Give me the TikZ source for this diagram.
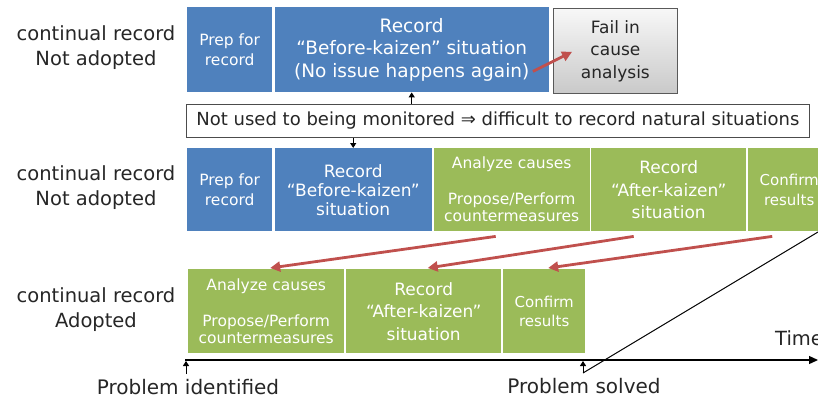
\documentclass[tikz,border=0pt]{standalone}
\usepackage{fontspec}
\setmainfont{DejaVu Sans}
\usetikzlibrary{arrows.meta,calc}
\definecolor{kblue}{HTML}{4F81BD}
\definecolor{kgreen}{HTML}{9BBB59}
\definecolor{kred}{HTML}{C0504D}
\begin{document}
\begin{tikzpicture}[x=1pt,y=-1pt,
  boxbase/.style={anchor=north west, inner sep=0pt, align=center, text=white},
  bluebox/.style={boxbase, fill=kblue},
  greenbox/.style={boxbase, fill=kgreen},
  failbox/.style={anchor=north west, inner sep=0pt, align=center, top color=gray!6, bottom color=gray!42, draw=black!65, line width=0.8pt, text=black!85},
  notebox/.style={anchor=north west, inner sep=0pt, fill=white, draw=black!70, line width=0.8pt, text=black!85},
  lbl/.style={align=center, inner sep=0pt, text=black!85},
  blackarr/.style={draw=black, line width=1pt, -{Triangle[length=5pt,width=6pt]}},
  redarr/.style={draw=kred, line width=2.8pt, -{Triangle[length=10pt,width=10pt]}},
  axisarr/.style={draw=black, line width=1.3pt, -{Triangle[length=9pt,width=8pt]}},
  fprep/.style={font=\fontsize{15.5}{20}\selectfont},
  fbig/.style={font=\fontsize{17}{22.5}\selectfont},
  frec/.style={font=\fontsize{18.5}{22.5}\selectfont},
  fmid/.style={font=\fontsize{17}{19}\selectfont},
  fan/.style={font=\fontsize{15.5}{17}\selectfont},
  fconf/.style={font=\fontsize{15}{19.5}\selectfont},
  flab/.style={font=\fontsize{19.5}{25}\selectfont}
]
\useasboundingbox (0,0) rectangle (818,401);
\clip (0,0) rectangle (818,401);

% row labels
\node[lbl, flab] (l1) at (96,47.5) {continual record\\Not adopted};
\node[lbl, flab] (l2) at (96,187.5) {continual record\\Not adopted};
\node[lbl, flab] (l3) at (96,309.5) {continual record\\Adopted};

% row 1
\node[bluebox, fprep, minimum width=85pt, minimum height=85pt] (prep1) at (187,7) {Prep for\\record};
\node[bluebox, frec, minimum width=274pt, minimum height=85pt] (rec1) at (274.5,7) {Record\\“Before-kaizen” situation\\(No issue happens again)};
\node[failbox, fbig, minimum width=124pt, minimum height=85pt] (fail1) at (553,8) {Fail in\\cause\\analysis};

% note
\node[notebox, minimum width=623pt, minimum height=33pt, font=\fontsize{18}{21}\selectfont] (note) at (186,104) {Not used to being monitored ⇒ difficult to record natural situations};

% row 2
\node[bluebox, fprep, minimum width=85pt, minimum height=83pt] (prep2) at (187,148) {Prep for\\record};
\node[bluebox, fmid, minimum width=157pt, minimum height=83pt] (rec2) at (274.5,148) {Record\\“Before-kaizen”\\situation};
\node[greenbox, fan, minimum width=156pt, minimum height=83pt] (an2) at (433.5,148) {Analyze causes\\[19pt]Propose/Perform\\countermeasures};
\node[greenbox, fbig, minimum width=155pt, minimum height=83pt] (aft2) at (591,148) {Record\\“After-kaizen”\\situation};
\node[greenbox, fconf, minimum width=82pt, minimum height=83pt] (conf2) at (748,148) {Confirm\\results};

% row 3
\node[greenbox, fan, minimum width=156pt, minimum height=84pt] (an3) at (188,269) {Analyze causes\\[19pt]Propose/Perform\\countermeasures};
\node[greenbox, fbig, minimum width=155pt, minimum height=84pt] (rec3) at (346,269) {Record\\“After-kaizen”\\situation};
\node[greenbox, fconf, minimum width=82pt, minimum height=84pt] (conf3) at (503,269) {Confirm\\results};

% black connectors around the note
\draw[blackarr] (note.north -| rec1.south) -- (rec1.south);
\draw[blackarr] (note.south -| rec2.north) -- (rec2.north);

% red arrows
\draw[redarr] ($(rec1.south east)+(-16,-21)$) -- ($(fail1.west)+(19,1)$);
\draw[redarr] ($(an2.south)+(-16,5)$) -- ($(an3.north)+(4,-1)$);
\draw[redarr] ($(aft2.south)+(-35,5)$) -- ($(rec3.north)+(4,-1)$);
\draw[redarr] ($(conf2.south)+(-17,5)$) -- ($(conf3.north)+(4,-1)$);

% time axis
\coordinate (t0) at (185,360);
\coordinate (t1) at (818,360);
\draw[axisarr] (t0) -- (t1);
\node[lbl, flab, anchor=west] (time) at (775,338) {Time};

\coordinate (pi0) at (186,374);
\coordinate (pi1) at (186,361);
\draw[blackarr] (pi0) -- (pi1);
\coordinate (ps0) at (583,373);
\coordinate (ps1) at (583,361);
\coordinate (ps2) at (818,232);
\draw[blackarr] (ps0) -- (ps1);
\draw[black, line width=1pt] (ps0) -- (ps2);

\node[lbl, font=\fontsize{20}{25}\selectfont] (pid) at (188,387) {Problem identified};
\node[lbl, font=\fontsize{20}{25}\selectfont] (psv) at (584,386) {Problem solved};
\end{tikzpicture}
\end{document}
